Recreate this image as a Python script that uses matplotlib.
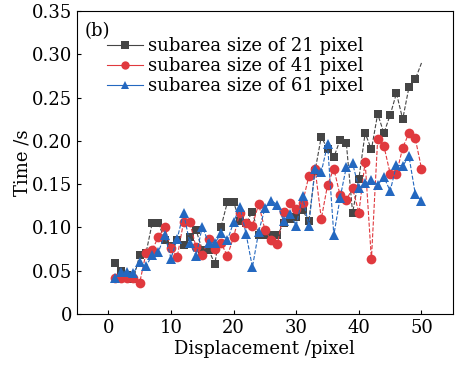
import matplotlib
matplotlib.use("Agg")
import matplotlib.pyplot as plt
from matplotlib.lines import Line2D
from matplotlib.ticker import FuncFormatter

# ---------------------------------------------------------------------------
# Data
# ---------------------------------------------------------------------------
disp = list(range(1, 51))

time_21 = [0.059, 0.050, 0.045, 0.040, 0.068, 0.070, 0.105, 0.105, 0.085, 0.079,
           0.085, 0.080, 0.089, 0.097, 0.074, 0.074, 0.058, 0.101, 0.129, 0.129,
           0.107, 0.105, 0.118, 0.091, 0.091, 0.091, 0.091, 0.105, 0.110, 0.112,
           0.120, 0.107, 0.165, 0.205, 0.190, 0.181, 0.201, 0.197, 0.117, 0.156,
           0.209, 0.190, 0.231, 0.209, 0.230, 0.255, 0.225, 0.262, 0.271, 0.290]

time_41 = [0.041, 0.041, 0.042, 0.042, 0.036, 0.070, 0.074, 0.089, 0.100, 0.076,
           0.066, 0.106, 0.106, 0.077, 0.068, 0.087, 0.075, 0.082, 0.067, 0.089,
           0.117, 0.105, 0.102, 0.127, 0.097, 0.085, 0.081, 0.118, 0.128, 0.121,
           0.128, 0.159, 0.168, 0.110, 0.149, 0.168, 0.137, 0.132, 0.145, 0.117,
           0.176, 0.063, 0.202, 0.194, 0.162, 0.162, 0.192, 0.209, 0.203, 0.168]

time_61 = [0.041, 0.049, 0.048, 0.047, 0.060, 0.055, 0.068, 0.072, 0.091, 0.064,
           0.087, 0.117, 0.082, 0.067, 0.101, 0.082, 0.082, 0.093, 0.085, 0.106,
           0.124, 0.092, 0.054, 0.095, 0.122, 0.131, 0.126, 0.107, 0.116, 0.102,
           0.136, 0.102, 0.168, 0.164, 0.196, 0.091, 0.134, 0.170, 0.174, 0.145,
           0.151, 0.155, 0.149, 0.158, 0.142, 0.172, 0.171, 0.182, 0.139, 0.130]

labels = ["subarea size of 21 pixel",
          "subarea size of 41 pixel",
          "subarea size of 61 pixel"]
colors = ["#454545", "#e0393e", "#2468c0"]
markers = ["s", "o", "^"]

plt.rcParams["font.family"] = ["DejaVu Serif"]

fig = plt.figure(figsize=(4.56, 3.68), dpi=100)
ax = fig.add_axes([0.169, 0.147, 0.824, 0.823])

series = [time_21, time_41, time_61]
msizes = [6, 7, 7]
for vals, col, mk, ms in zip(series, colors, markers, msizes):
    # the 21-pixel curve has no marker on its last point
    mev = list(range(49)) if vals is time_21 else None
    ax.plot(disp, vals, color=col, marker=mk, markersize=ms, linestyle="--",
            linewidth=0.8, markevery=mev, markeredgewidth=0)

handles = [Line2D([0], [0], color=c, marker=m, markersize=6, linewidth=0.8,
                  markeredgewidth=0)
           for c, m in zip(colors, markers)]
ax.legend(handles, labels, loc="upper left", bbox_to_anchor=(0.05, 0.95),
          frameon=False, fontsize=13, handlelength=2.0, handletextpad=0.3,
          labelspacing=0.12, borderaxespad=0.2)

ax.text(0.02, 0.965, "(b)", transform=ax.transAxes, ha="left", va="top",
        fontsize=13)

ax.set_xlim(-5, 55)
ax.set_ylim(0, 0.35)
ax.set_xticks([0, 10, 20, 30, 40, 50])
ax.set_yticks([0, 0.05, 0.10, 0.15, 0.20, 0.25, 0.30, 0.35])
ax.yaxis.set_major_formatter(FuncFormatter(lambda v, p: "0" if v == 0 else f"{v:.2f}"))
ax.tick_params(direction="in", length=3, labelsize=13, width=0.8)
for s in ax.spines.values():
    s.set_linewidth(0.8)

ax.set_xlabel("Displacement /pixel", fontsize=13, labelpad=2)
ax.set_ylabel("Time /s", fontsize=13, labelpad=0)

fig.savefig("out.png", dpi=100)
